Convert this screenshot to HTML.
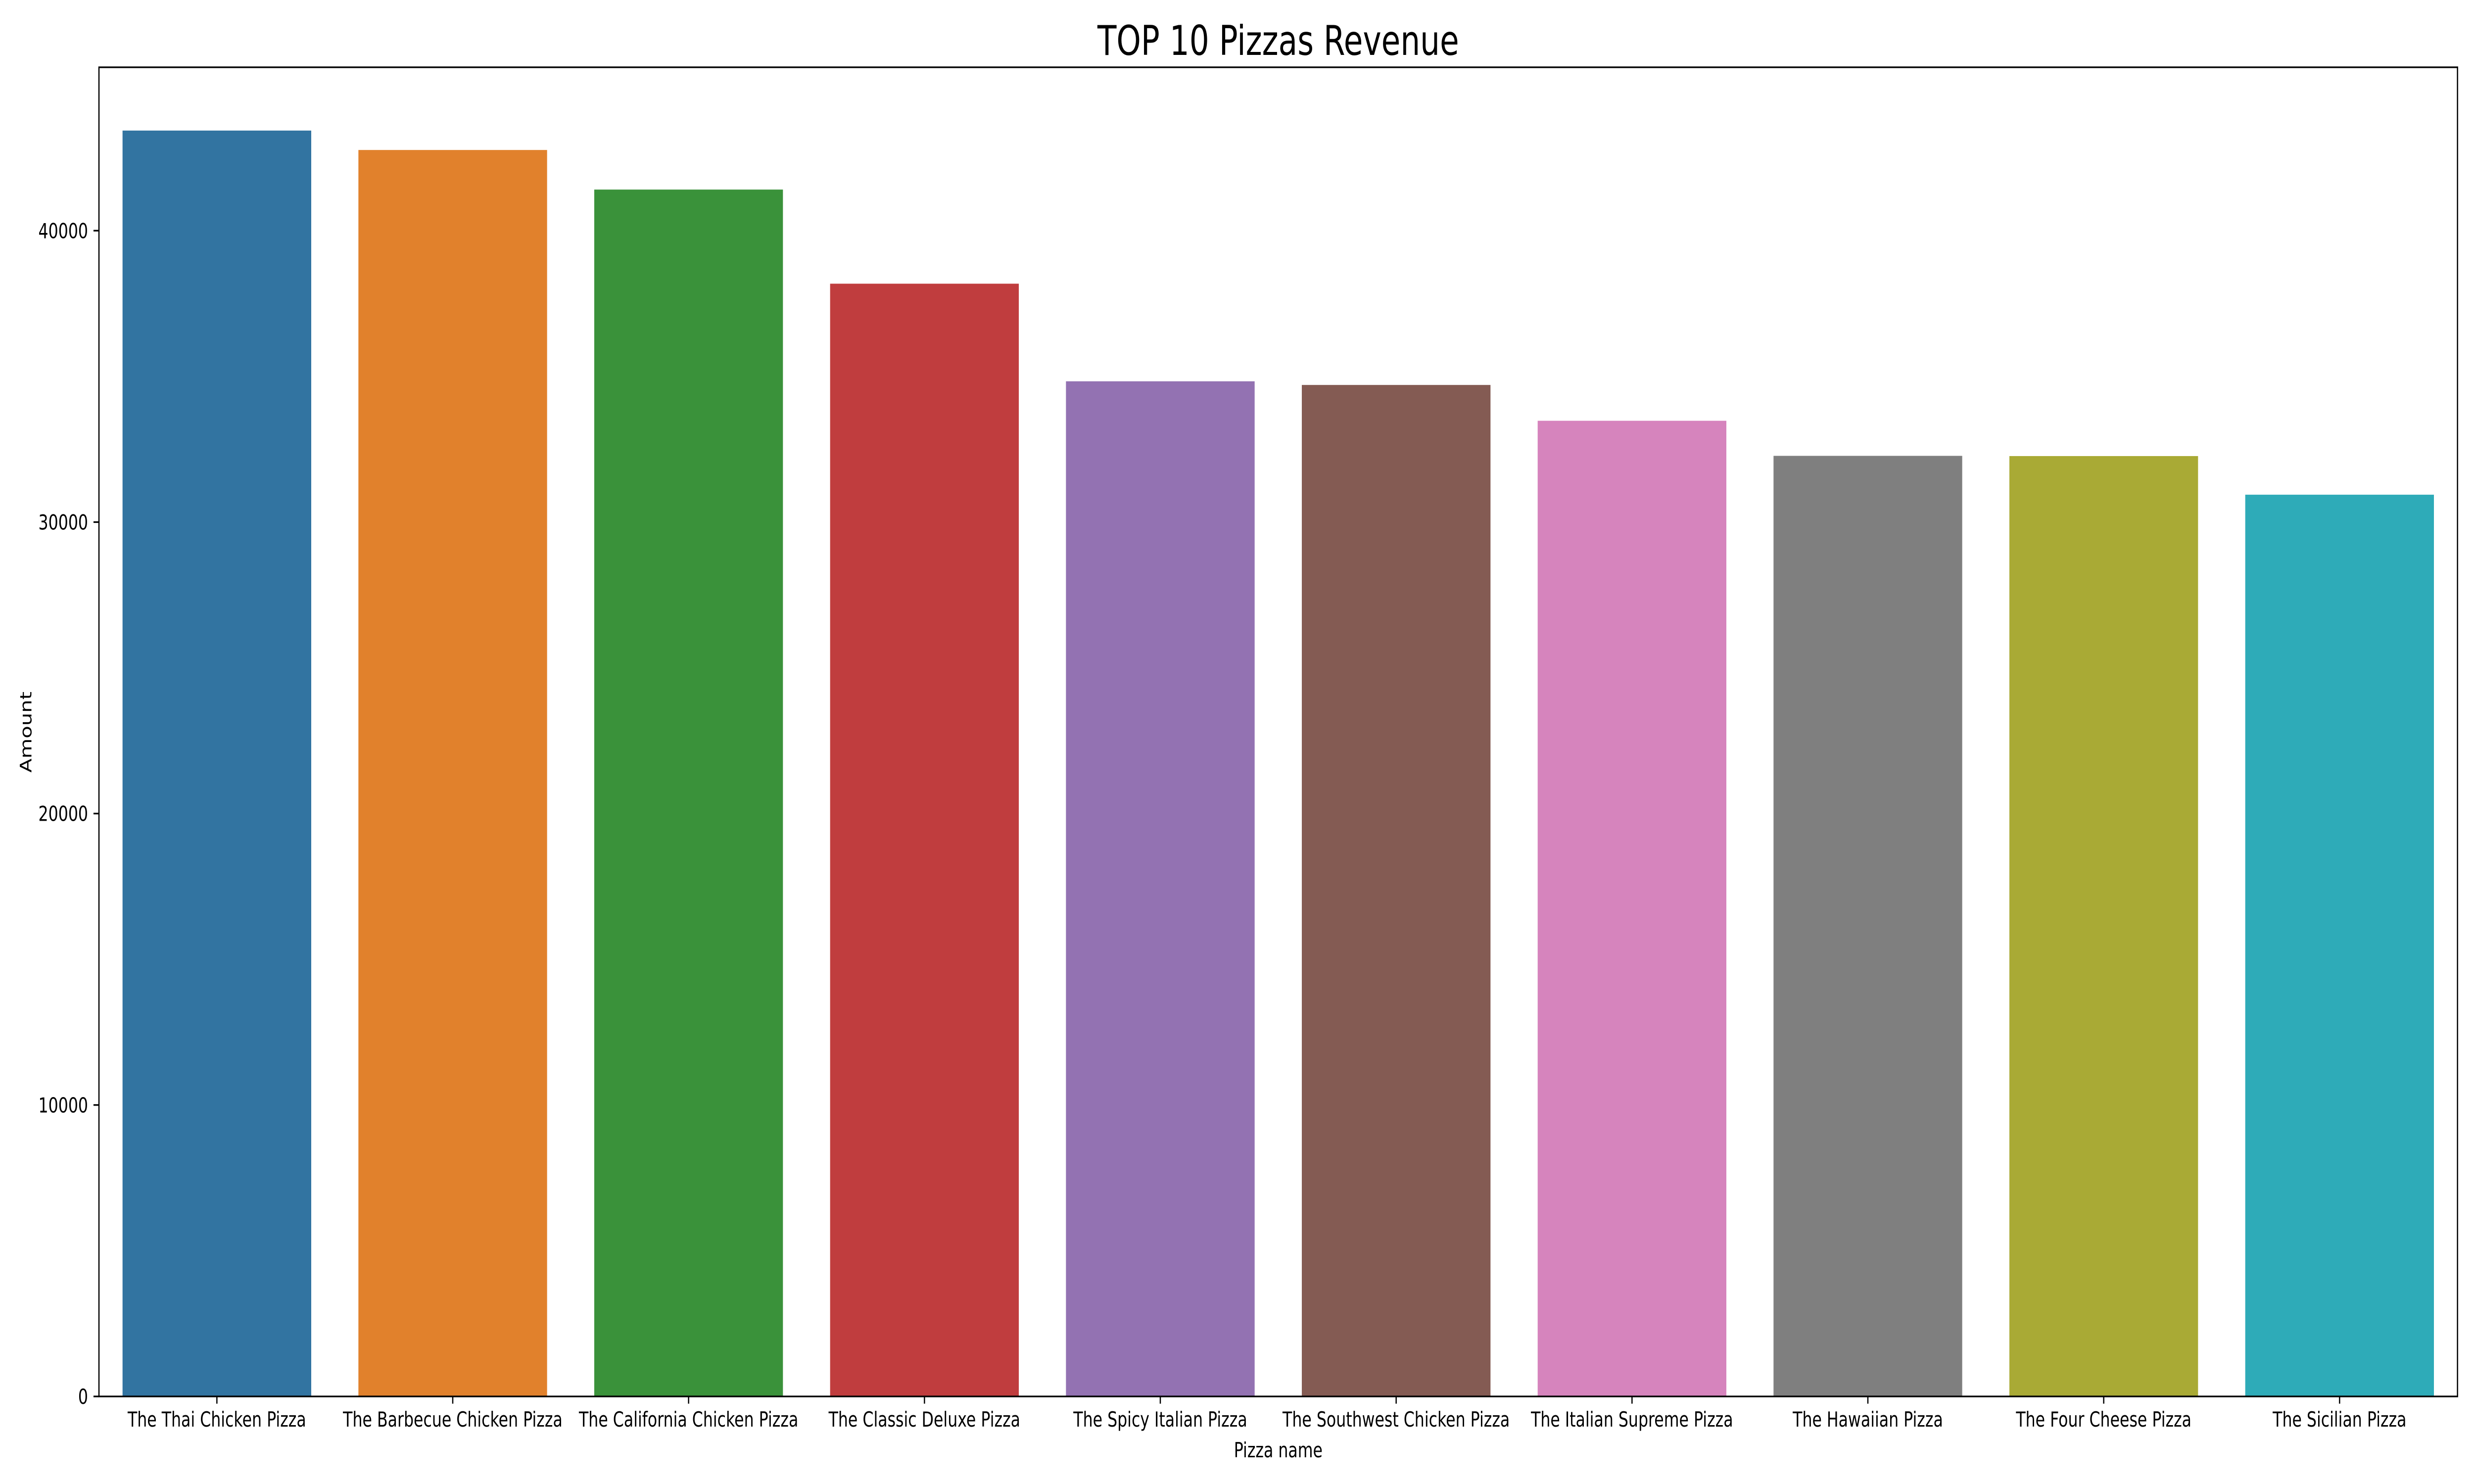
<!DOCTYPE html>
<html><head><meta charset="utf-8"><style>
html,body{margin:0;padding:0;background:#fff;width:100%;height:100%;overflow:hidden;}
svg{display:block;width:100vw;height:100vh;font-family:"DejaVu Sans","Liberation Sans",sans-serif;}
</style></head><body>
<svg id="chart" viewBox="0 0 6600 3000" preserveAspectRatio="none" xmlns="http://www.w3.org/2000/svg">
<rect width="6600" height="3000" fill="#fff"/>
<text x="3410" y="111" font-size="83" text-anchor="middle" fill="#000">TOP 10 Pizzas Revenue</text>
<text x="3410" y="2946" font-size="41.7" text-anchor="middle" fill="#000">Pizza name</text>
<text transform="translate(84,1480) rotate(-90)" font-size="41.7" text-anchor="middle" fill="#000">Amount</text>
<g id="bars"></g>
<g id="ticks"></g>
<rect x="264" y="136" width="6292" height="2687" fill="none" stroke="#000" stroke-width="3.3"/>
</svg>
<script>
const categories = ["The Thai Chicken Pizza","The Barbecue Chicken Pizza","The California Chicken Pizza","The Classic Deluxe Pizza","The Spicy Italian Pizza","The Southwest Chicken Pizza","The Italian Supreme Pizza","The Hawaiian Pizza","The Four Cheese Pizza","The Sicilian Pizza"];
const revenue = [43434.25,42768,41409.5,38180.5,34831.25,34705.75,33476.75,32273.25,32265.7,30940.5];
const yTicks = [0,10000,20000,30000,40000];
const colors = ["#3274a1","#e1812c","#3a923a","#c03d3e","#9372b2","#845b53","#d684bd","#7f7f7f","#a9aa35","#2eabb8"];

const NS="http://www.w3.org/2000/svg";
const L=264,R=6556,T=136,B=2823;
const maxV=Math.max(...revenue)*1.05;
const step=(R-L)/categories.length;
function xs(i){return L+step*(i+0.5);}
function ys(v){return B-(v/maxV)*(B-T);}
const bars=document.getElementById('bars');
const ticks=document.getElementById('ticks');
function mk(tag,attrs){const e=document.createElementNS(NS,tag);for(const k in attrs)e.setAttribute(k,attrs[k]);return e;}
categories.forEach((c,i)=>{
  const w=step*0.8;
  const r=mk('rect',{x:xs(i)-w/2,y:ys(revenue[i]),width:w,height:B-ys(revenue[i]),fill:colors[i]});
  
  
  bars.appendChild(r);
  const t=mk('line',{x1:xs(i),x2:xs(i),y1:B,y2:B+14.6,stroke:'#000','stroke-width':3.3});
  
  
  ticks.appendChild(t);
  const lb=mk('text',{x:xs(i),y:B+61,'font-size':41.7,'text-anchor':'middle',fill:'#000'});
  lb.textContent=c;
  
  
  ticks.appendChild(lb);
});
yTicks.forEach(v=>{
  const y=ys(v);
  const t=mk('line',{x1:L-14.6,x2:L,y1:y,y2:y,stroke:'#000','stroke-width':3.3});
  
  
  ticks.appendChild(t);
  const lb=mk('text',{x:L-29,y:y+15,'font-size':41.7,'text-anchor':'end',fill:'#000'});
  lb.textContent=String(v);
  
  
  ticks.appendChild(lb);
});
</script>
</body></html>
